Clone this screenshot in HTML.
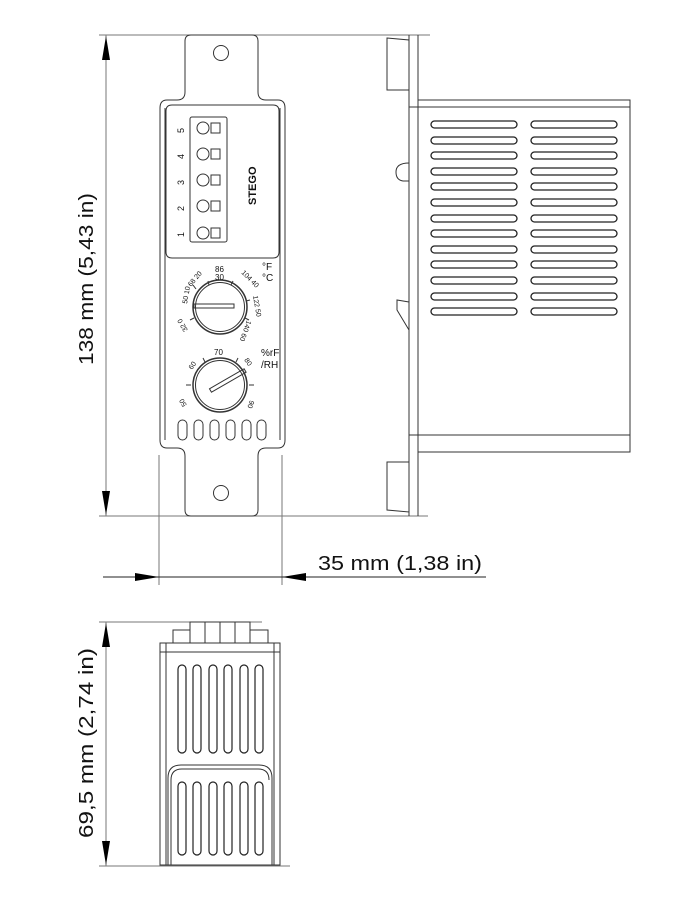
<!DOCTYPE html>
<html><head><meta charset="utf-8"><style>
html,body{margin:0;padding:0;background:#fff;}
svg{display:block;}
text{font-family:"Liberation Sans",sans-serif;fill:#111;}
</style></head><body>
<svg width="682" height="905" viewBox="0 0 682 905" xmlns="http://www.w3.org/2000/svg">
<rect x="0" y="0" width="682" height="905" fill="#fff"/>
<g fill="none" stroke="#777" stroke-width="1">
<!-- extension lines -->
<line x1="99" y1="35" x2="430" y2="35"/>
<line x1="99" y1="516" x2="428" y2="516"/>
<line x1="159" y1="455" x2="159" y2="585"/>
<line x1="282" y1="455" x2="282" y2="585"/>
<line x1="99" y1="622" x2="262" y2="622"/>
<line x1="99" y1="866" x2="290" y2="866"/>
<line x1="106" y1="35" x2="106" y2="516"/>
<line x1="106" y1="622" x2="106" y2="866"/>
</g>
<line x1="103" y1="577" x2="486" y2="577" stroke="#222" stroke-width="1"/>
<g fill="#000">
<polygon points="106,36 102,60 110,60"/>
<polygon points="106,515 102,491 110,491"/>
<polygon points="106,623 102,647 110,647"/>
<polygon points="106,865 102,841 110,841"/>
<polygon points="159,577 135,573 135,581"/>
<polygon points="282,577 306,573 306,581"/>
</g>
<text x="318" y="570" font-size="20" textLength="164" lengthAdjust="spacingAndGlyphs">35 mm  (1,38 in)</text>
<text transform="translate(93,365) rotate(-90)" font-size="20" textLength="172" lengthAdjust="spacingAndGlyphs">138 mm  (5,43 in)</text>
<text transform="translate(93,838) rotate(-90)" font-size="20" textLength="190" lengthAdjust="spacingAndGlyphs">69,5 mm  (2,74 in)</text>

<!-- FRONT VIEW -->
<g fill="none" stroke="#333" stroke-width="1">
<path d="M191,35 H252 Q258,35 258,41 V92 Q258,100 266,100 H278 Q285,100 285,108 V440 Q285,448 278,448 H266 Q258,448 258,456 V510 Q258,516 252,516 H191 Q185,516 185,510 V456 Q185,448 177,448 H167 Q160,448 160,440 V108 Q160,100 167,100 H177 Q185,100 185,92 V41 Q185,35 191,35 Z"/>
<line x1="165" y1="108" x2="165" y2="440"/>
<line x1="280" y1="108" x2="280" y2="440"/>
<circle cx="221" cy="53" r="7.5"/>
<circle cx="221" cy="493" r="7.5"/>
<path d="M172,105 H273 Q279,105 279,111 V252 Q279,258 273,258 H172 Q166,258 166,252 V111 Q166,105 172,105 Z"/>
<rect x="190" y="117" width="37" height="125" rx="2"/>
<circle cx="203" cy="128" r="6"/><rect x="211" y="123" width="9" height="10"/>
<circle cx="203" cy="154" r="6"/><rect x="211" y="149" width="9" height="10"/>
<circle cx="203" cy="180" r="6"/><rect x="211" y="175" width="9" height="10"/>
<circle cx="203" cy="206" r="6"/><rect x="211" y="201" width="9" height="10"/>
<circle cx="203" cy="233" r="6"/><rect x="211" y="228" width="9" height="10"/>
<circle cx="220" cy="307" r="27" stroke-width="1.5"/>
<circle cx="220" cy="307" r="24.5"/>
<circle cx="220" cy="385" r="27" stroke-width="1.5"/>
<circle cx="220" cy="385" r="24.5"/>
<rect x="194" y="304" width="40" height="4" />
<g transform="rotate(-30 220 385)"><rect x="209" y="383" width="40" height="4"/></g>
<rect x="178" y="420" width="9" height="20" rx="4.5"/>
<rect x="194" y="420" width="9" height="20" rx="4.5"/>
<rect x="210" y="420" width="9" height="20" rx="4.5"/>
<rect x="226" y="420" width="9" height="20" rx="4.5"/>
<rect x="242" y="420" width="9" height="20" rx="4.5"/>
<rect x="257" y="420" width="9" height="20" rx="4.5"/>
</g>
<g font-size="9">
<text transform="translate(184,133) rotate(-90)">5</text>
<text transform="translate(184,159) rotate(-90)">4</text>
<text transform="translate(184,185) rotate(-90)">3</text>
<text transform="translate(184,211) rotate(-90)">2</text>
<text transform="translate(184,237) rotate(-90)">1</text>
<text transform="translate(256,205) rotate(-90)" font-size="11" font-weight="bold">STEGO</text>
<text x="262" y="270" font-size="10">°F</text>
<text x="262" y="281" font-size="10">°C</text>
<text x="261" y="356" font-size="10">%rF</text>
<text x="261" y="368" font-size="10">/RH</text>
<text x="215" y="272" font-size="8">86</text>
<text x="215" y="280" font-size="8">30</text>
<text transform="translate(191,287) rotate(-50)" font-size="7">68 20</text>
<text transform="translate(187,304) rotate(-80)" font-size="7">50 10</text>
<text transform="translate(188,330) rotate(-120)" font-size="7">32 0</text>
<text transform="translate(241,273) rotate(45)" font-size="7">104 40</text>
<text transform="translate(253,296) rotate(80)" font-size="7">122 50</text>
<text transform="translate(247,320) rotate(110)" font-size="7">140 60</text>
<text x="214" y="355" font-size="8">70</text>
<text transform="translate(192,370) rotate(-55)" font-size="7">60</text>
<text transform="translate(187,405) rotate(-120)" font-size="7">50</text>
<text transform="translate(244,360) rotate(55)" font-size="7">80</text>
<text transform="translate(250,400) rotate(110)" font-size="7">90</text>
</g>
<g stroke="#333" stroke-width="1">
<line x1="193" y1="285" x2="196" y2="289"/><line x1="208" y1="281" x2="209" y2="285"/>
<line x1="233" y1="281" x2="231" y2="285"/><line x1="250" y1="300" x2="246" y2="301"/>
<line x1="190" y1="320" x2="194" y2="318"/><line x1="249" y1="320" x2="245" y2="318"/>
<line x1="203" y1="358" x2="205" y2="362"/><line x1="238" y1="358" x2="236" y2="362"/>
<line x1="186" y1="385" x2="191" y2="385"/><line x1="249" y1="385" x2="254" y2="385"/>
</g>

<!-- SIDE VIEW -->
<g fill="none" stroke="#333" stroke-width="1">
<line x1="409" y1="35" x2="409" y2="516"/>
<line x1="418" y1="35" x2="418" y2="516"/>
<path d="M387,38 L409,40 V90 H387 Z"/>
<path d="M387,462 H409 V512 L387,510 Z"/>
<rect x="418" y="100" width="212" height="352"/>
<line x1="409" y1="107" x2="630" y2="107"/>
<line x1="409" y1="435" x2="630" y2="435"/>
<path d="M409,163 Q396,163 396,172 Q396,180 403,181 L409,181"/>
<path d="M409,302 L397,300 L397,310 L409,330"/>
</g>
<g fill="none" stroke="#222" stroke-width="1.3">
<rect x="431" y="121" width="86" height="7" rx="3.5"/><rect x="531" y="121" width="86" height="7" rx="3.5"/>
<rect x="431" y="137" width="86" height="7" rx="3.5"/><rect x="531" y="137" width="86" height="7" rx="3.5"/>
<rect x="431" y="152" width="86" height="7" rx="3.5"/><rect x="531" y="152" width="86" height="7" rx="3.5"/>
<rect x="431" y="168" width="86" height="7" rx="3.5"/><rect x="531" y="168" width="86" height="7" rx="3.5"/>
<rect x="431" y="183" width="86" height="7" rx="3.5"/><rect x="531" y="183" width="86" height="7" rx="3.5"/>
<rect x="431" y="199" width="86" height="7" rx="3.5"/><rect x="531" y="199" width="86" height="7" rx="3.5"/>
<rect x="431" y="215" width="86" height="7" rx="3.5"/><rect x="531" y="215" width="86" height="7" rx="3.5"/>
<rect x="431" y="230" width="86" height="7" rx="3.5"/><rect x="531" y="230" width="86" height="7" rx="3.5"/>
<rect x="431" y="246" width="86" height="7" rx="3.5"/><rect x="531" y="246" width="86" height="7" rx="3.5"/>
<rect x="431" y="261" width="86" height="7" rx="3.5"/><rect x="531" y="261" width="86" height="7" rx="3.5"/>
<rect x="431" y="277" width="86" height="7" rx="3.5"/><rect x="531" y="277" width="86" height="7" rx="3.5"/>
<rect x="431" y="293" width="86" height="7" rx="3.5"/><rect x="531" y="293" width="86" height="7" rx="3.5"/>
<rect x="431" y="308" width="86" height="7" rx="3.5"/><rect x="531" y="308" width="86" height="7" rx="3.5"/>
</g>

<!-- BOTTOM VIEW -->
<g fill="none" stroke="#333" stroke-width="1">
<rect x="190" y="622" width="60" height="21"/>
<line x1="205" y1="622" x2="205" y2="643"/><line x1="220" y1="622" x2="220" y2="643"/><line x1="235" y1="622" x2="235" y2="643"/>
<rect x="173" y="630" width="17" height="13"/>
<rect x="250" y="630" width="18" height="13"/>
<rect x="160" y="643" width="120" height="222"/>
<line x1="166" y1="643" x2="166" y2="865"/><line x1="274" y1="643" x2="274" y2="865"/>
<line x1="160" y1="652" x2="280" y2="652"/>
<path d="M168,865 V778 Q168,765 181,765 H259 Q272,765 272,778 V865"/>
<path d="M171,865 V780 Q171,769 182,769 H258 Q269,769 269,780"/>
</g>
<g fill="none" stroke="#222" stroke-width="1.2">
<rect x="178" y="665" width="8" height="88" rx="4"/>
<rect x="193" y="665" width="8" height="88" rx="4"/>
<rect x="209" y="665" width="8" height="88" rx="4"/>
<rect x="224" y="665" width="8" height="88" rx="4"/>
<rect x="240" y="665" width="8" height="88" rx="4"/>
<rect x="255" y="665" width="8" height="88" rx="4"/>
<rect x="178" y="782" width="8" height="73" rx="4"/>
<rect x="193" y="782" width="8" height="73" rx="4"/>
<rect x="209" y="782" width="8" height="73" rx="4"/>
<rect x="224" y="782" width="8" height="73" rx="4"/>
<rect x="240" y="782" width="8" height="73" rx="4"/>
<rect x="255" y="782" width="8" height="73" rx="4"/>
</g>
</svg>
</body></html>
